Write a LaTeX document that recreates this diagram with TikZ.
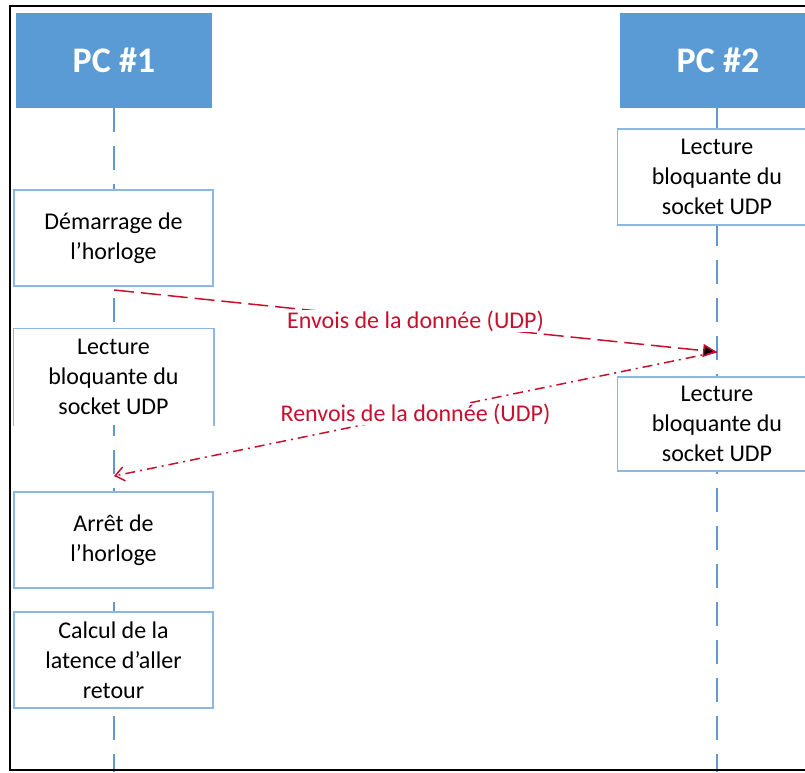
\documentclass[tikz,border=0pt]{standalone}
\usepackage{fontspec}
\setmainfont{Carlito}
\usetikzlibrary{arrows.meta}
\usetikzlibrary{backgrounds}

\definecolor{pcblue}{HTML}{5B9BD5}
\definecolor{boxblue}{HTML}{8DB6E0}
\definecolor{msgred}{HTML}{C8102E}

\tikzset{
  pc/.style={fill=pcblue, text=white, font=\fontsize{36}{40}\selectfont\bfseries,
    minimum width=196pt, minimum height=95pt, inner sep=0pt},
  act/.style={draw=boxblue, line width=1.5pt, fill=white, align=center,
    font=\fontsize{24}{30}\selectfont, minimum width=199pt, minimum height=96pt, inner sep=0pt},
  life/.style={draw=pcblue, line width=2pt, dash pattern=on 24pt off 14pt},
  msg/.style={draw=msgred, line width=1.5pt, text=msgred, font=\fontsize{24}{30}\selectfont},
  lbl/.style={fill=white, inner sep=1pt}
}

\begin{document}
\begin{tikzpicture}[x=1pt,y=-1pt]
  \useasboundingbox (0,0) rectangle (805,772);
  \draw[line width=2pt] (10,6) rectangle (840,770);

  \node[pc] (pc1) at (114,60.5) {PC \#1};
  \node[pc] (pc2) at (718,60.5) {PC \#2};

  \node[act] (dem) at (113.5,238) {Démarrage de\\l’horloge};
  \node[act, draw=none] (lect1) at (113.5,377) {Lecture\\bloquante du\\socket UDP};
  \draw[boxblue, line width=1.5pt] (lect1.south west) -- (lect1.north west)
    -- (lect1.north east) -- (lect1.south east);
  \node[act] (arret) at (113.5,540) {Arrêt de\\l’horloge};
  \node[act] (calc) at (113.5,660) {Calcul de la\\latence d’aller\\retour};

  \node[act] (lect2) at (717,177) {Lecture\\bloquante du\\socket UDP};
  \node[act, minimum height=94pt] (lect3) at (717,424) {Lecture\\bloquante du\\socket UDP};

  \coordinate (end1) at (114,772);
  \coordinate (end2) at (717,772);
  \coordinate (send) at (114,290);
  \coordinate (recv) at (717,352);
  \coordinate (back) at (114,476);

  \begin{scope}[on background layer]
    \path[life] (pc1.south) -- (end1);
    \path[life] (pc2.south -| end2) -- (end2);
  \end{scope}

  \path[msg]
    (send) edge [dash pattern=on 20pt off 7pt, -{Triangle[length=14pt,width=13pt]}]
      node [lbl] {Envois de la donnée (UDP)} (recv)
    (recv) edge [dash pattern=on 10pt off 5pt on 2pt off 5pt, -{Straight Barb[length=9pt,width=14pt]}]
      node [lbl] {Renvois de la donnée (UDP)} (back);
\end{tikzpicture}
\end{document}
